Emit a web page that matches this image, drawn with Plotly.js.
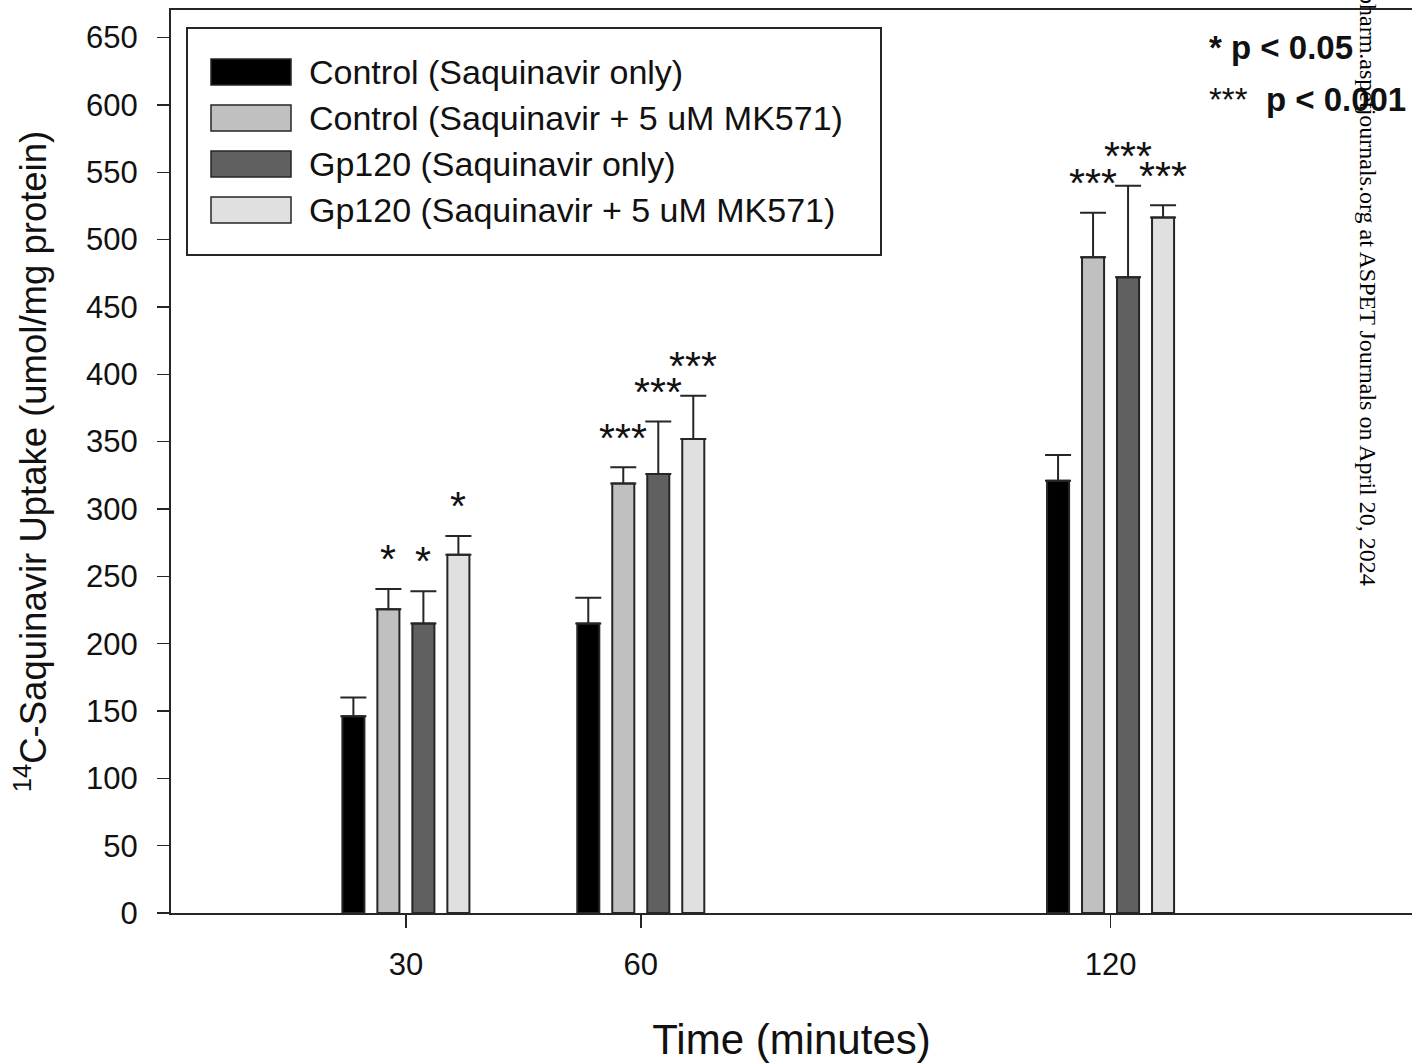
<!DOCTYPE html>
<html>
<head>
<meta charset="utf-8">
<script src="https://cdn.plot.ly/plotly-3.0.1.min.js"></script>
<style>
  html, body { margin: 0; padding: 0; background: #fff; overflow: hidden; }
  #chart { width: 1412px; height: 1063px; }
</style>
</head>
<body>
<div id="chart"></div>
<script>
// ---- Data ----
const timePoints = [30, 60, 120];
const seriesNames = [
  "Control (Saquinavir only)",
  "Control (Saquinavir + 5 uM MK571)",
  "Gp120 (Saquinavir only)",
  "Gp120 (Saquinavir + 5 uM MK571)"
];
const controlOnly      = [146, 215, 321];
const controlMK571     = [225.5, 319, 487];
const gp120Only        = [215, 326, 472];
const gp120MK571       = [266, 352, 516.5];
const errControlOnly   = [14, 19, 19];
const errControlMK571  = [15, 12, 33];
const errGp120Only     = [24, 39, 68];
const errGp120MK571    = [14, 32, 9];
const sigControlOnly   = ["", "", ""];
const sigControlMK571  = ["*", "***", "***"];
const sigGp120Only     = ["*", "***", "***"];
const sigGp120MK571    = ["*", "***", "***"];
const yTickVals = [0, 50, 100, 150, 200, 250, 300, 350, 400, 450, 500, 550, 600, 650];
const xTickVals = [30, 60, 120];
const pLegendLines = ["* p < 0.05", "*** p < 0.001"];
const watermark = "pharm.aspetjournals.org at ASPET Journals on April 20, 2024";

// ---- Styling ----
const fills = ["#000000", "#c0c0c0", "#606060", "#e0e0e0"];
const outline = "#262626";
const FONT = "Liberation Sans, Arial, Helvetica, sans-serif";

const values = [controlOnly, controlMK571, gp120Only, gp120MK571];
const errors = [errControlOnly, errControlMK571, errGp120Only, errGp120MK571];
const sigs   = [sigControlOnly, sigControlMK571, sigGp120Only, sigGp120MK571];

// layout geometry
const W = 1412, H = 1063, ML = 171, MR = 0, MT = 10, MB = 150;
const px2x = px => (px - ML) / (W - ML - MR);
const px2y = py => (H - MB - py) / (H - MT - MB);

const bargap = 0.404, bargroupgap = 0.37;
const slot = 30 * (1 - bargap) / 4;   // data units per bar slot

const traces = values.map((v, i) => ({
  type: "bar",
  name: seriesNames[i],
  x: timePoints,
  y: v,
  marker: { color: fills[i], line: { color: outline, width: 2 } },
  error_y: {
    type: "data", symmetric: false, array: errors[i],
    arrayminus: errors[i].map(() => 0),
    color: "#262626", thickness: 2, width: 13
  },
  showlegend: false,
  hoverinfo: "x+y"
}));

const annotations = [];
// significance marks above bars
values.forEach((v, i) => {
  v.forEach((val, j) => {
    const s = sigs[i][j];
    if (!s) return;
    annotations.push({
      x: timePoints[j] + (i - 1.5) * slot,
      y: val + errors[i][j] + 25,
      xref: "x", yref: "y",
      text: s, showarrow: false,
      xanchor: "center", yanchor: "middle",
      yshift: -4,
      font: { family: FONT, size: 41, color: "#111" }
    });
  });
});

// custom legend (box + swatches + labels)
const shapes = [];
shapes.push({
  type: "rect", xref: "paper", yref: "paper",
  x0: px2x(187), x1: px2x(881), y0: px2y(255), y1: px2y(28),
  line: { color: "#262626", width: 2 }, fillcolor: "#ffffff", layer: "above"
});
const rowCenters = [72, 118, 164, 210];
seriesNames.forEach((nm, i) => {
  const c = rowCenters[i];
  shapes.push({
    type: "rect", xref: "paper", yref: "paper",
    x0: px2x(211), x1: px2x(291), y0: px2y(c + 13), y1: px2y(c - 13),
    line: { color: "#262626", width: 1.5 }, fillcolor: fills[i], layer: "above"
  });
  annotations.push({
    xref: "paper", yref: "paper", x: px2x(307), y: px2y(c),
    xanchor: "left", yanchor: "middle", showarrow: false,
    text: nm, font: { family: FONT, size: 34, color: "#111" }
  });
});

// p-value key
const esc = s => s.replace(/</g, "&lt;");
annotations.push({
  xref: "paper", yref: "paper", x: px2x(1207), y: px2y(48),
  xanchor: "left", yanchor: "middle", showarrow: false,
  text: "<b>" + esc(pLegendLines[0]).replace(" ", "\u00a0") + "</b>",
  font: { family: FONT, size: 33, color: "#111" }
});
const l2 = esc(pLegendLines[1]);
const star2 = l2.split(" ")[0], rest2 = l2.slice(star2.length + 1);
annotations.push({
  xref: "paper", yref: "paper", x: px2x(1207), y: px2y(100),
  xanchor: "left", yanchor: "middle", showarrow: false,
  text: star2 + "\u00a0\u00a0<b>" + rest2 + "</b>",
  font: { family: FONT, size: 33, color: "#111" }
});

// vertical watermark
annotations.push({
  xref: "paper", yref: "paper", x: px2x(1368), y: px2y(588),
  xanchor: "center", yanchor: "bottom", showarrow: false, textangle: 90,
  text: watermark,
  font: { family: "Liberation Serif, Times New Roman, serif", size: 24, color: "#000" }
});

const layout = {
  width: W, height: H,
  margin: { l: ML, r: MR, t: MT, b: MB, pad: 0 },
  paper_bgcolor: "#ffffff", plot_bgcolor: "#ffffff",
  font: { family: FONT, color: "#111", size: 31 },
  barmode: "group", bargap: bargap, bargroupgap: bargroupgap,
  showlegend: false,
  xaxis: {
    type: "linear", range: [0, 158.5],
    tickvals: xTickVals, ticktext: xTickVals.map(String),
    ticks: "outside", ticklen: 13, tickwidth: 1.5, tickcolor: "#262626",
    showline: true, linecolor: "#262626", linewidth: 2, mirror: true,
    showgrid: false, zeroline: false,
    ticklabelstandoff: 10,
    tickfont: { family: FONT, size: 31, color: "#111" },
    title: { text: "Time (minutes)", font: { family: FONT, size: 42, color: "#111" }, standoff: 44 }
  },
  yaxis: {
    range: [0, 670.5],
    tickvals: yTickVals, ticktext: yTickVals.map(String),
    ticks: "outside", ticklen: 12, tickwidth: 1.5, tickcolor: "#262626",
    showline: true, linecolor: "#262626", linewidth: 2,
    showgrid: false, zeroline: false,
    ticklabelstandoff: 13,
    tickfont: { family: FONT, size: 31, color: "#111" },
    title: { text: "<sup>14</sup>C-Saquinavir Uptake (umol/mg protein)", font: { family: FONT, size: 36.5, color: "#111" }, standoff: 28 }
  },
  shapes: shapes,
  annotations: annotations
};

Plotly.newPlot("chart", traces, layout, { displayModeBar: false, staticPlot: true });
</script>
</body>
</html>
